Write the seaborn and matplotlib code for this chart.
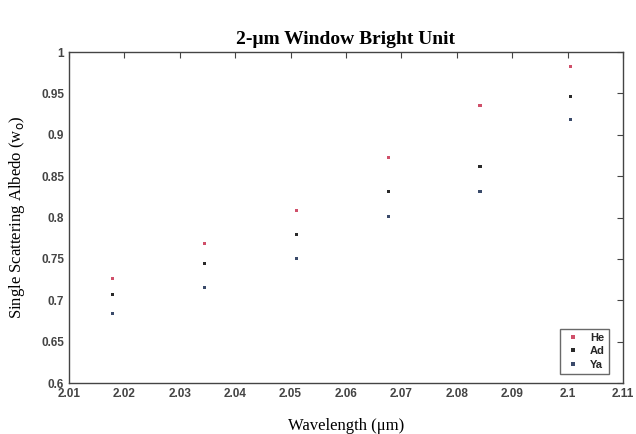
import pandas as pd
import seaborn as sns
import matplotlib.pyplot as plt

wavelength = [2.0178, 2.0345, 2.0511, 2.0676, 2.0842, 2.1006]
he = [0.726, 0.769, 0.809, 0.873, 0.935, 0.983]
ad = [0.707, 0.744, 0.779, 0.832, 0.862, 0.946]
ya = [0.684, 0.715, 0.750, 0.801, 0.832, 0.919]
units = ['He', 'Ad', 'Ya']
colors = ['#d0506a', '#2a2a2a', '#3a4a6a']

df = pd.concat([
    pd.DataFrame({'wl': wavelength, 'albedo': vals, 'unit': name})
    for name, vals in zip(units, [he, ad, ya])
])

sns.set_style('white')
fig = plt.figure(figsize=(6.36, 4.34), dpi=100)
ax = fig.add_axes([0.1085, 0.1175, 0.871, 0.7625])

sns.scatterplot(data=df, x='wl', y='albedo', hue='unit', hue_order=units,
                palette=colors, marker='s', s=5, linewidth=0, ax=ax)

ax.set_xlim(2.01, 2.11)
ax.set_ylim(0.6, 1.0)
ax.set_xticks([2.01, 2.02, 2.03, 2.04, 2.05, 2.06, 2.07, 2.08, 2.09, 2.1, 2.11])
ax.set_xticklabels(['2.01', '2.02', '2.03', '2.04', '2.05', '2.06', '2.07', '2.08', '2.09', '2.1', '2.11'])
ax.set_yticks([0.6, 0.65, 0.7, 0.75, 0.8, 0.85, 0.9, 0.95, 1.0])
ax.set_yticklabels(['0.6', '0.65', '0.7', '0.75', '0.8', '0.85', '0.9', '0.95', '1'])
ax.tick_params(direction='in', length=4, width=0.8, top=True, right=True,
               colors='#444444', labelsize=8.5)
for lab in ax.get_xticklabels() + ax.get_yticklabels():
    lab.set_fontweight('bold')
    lab.set_family('Liberation Sans')
for sp in ax.spines.values():
    sp.set_visible(True)
    sp.set_color('#444444')
    sp.set_linewidth(1.0)

ax.set_xlabel('Wavelength (μm)', family='Liberation Serif', fontsize=12,
              labelpad=13, color='black')
ax.set_ylabel('Single Scattering Albedo (w$_\\mathrm{o}$)', family='Liberation Serif',
              fontsize=12, labelpad=10, color='black')
ax.set_title('2-μm Window Bright Unit', family='Liberation Serif', fontsize=14,
             fontweight='bold', pad=6, color='black')

leg = ax.legend(loc='lower right', bbox_to_anchor=(0.985, 0.01),
                markerscale=1.0, handlelength=1.5, borderpad=0.4,
                labelspacing=0.3, frameon=True, fancybox=False, shadow=False,
                prop={'family': 'Liberation Sans', 'weight': 'bold', 'size': 8})
leg.get_frame().set_edgecolor('#444444')
leg.get_frame().set_linewidth(1.0)

fig.savefig('out.png', dpi=100)
